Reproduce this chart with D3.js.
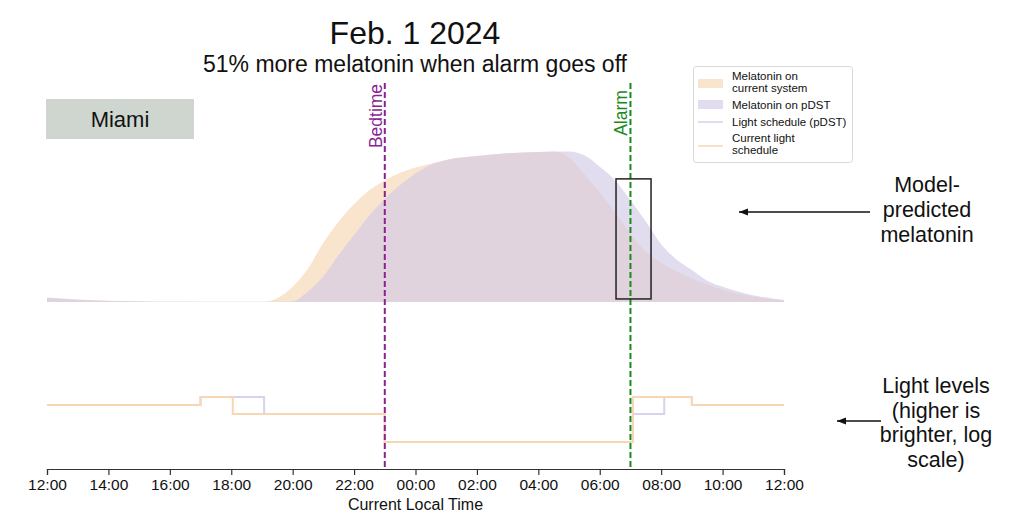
<!DOCTYPE html>
<html><head><meta charset="utf-8">
<script src="https://cdn.jsdelivr.net/npm/d3@7"></script>
<style>
body{margin:0;background:#fff}
svg{display:block}
text{font-family:"Liberation Sans",Arial,Helvetica,sans-serif;fill:#111}
</style>
</head><body><svg id="c" width="1024" height="527"></svg>
<script>
// ---------- data (hours since 12:00 noon) ----------
const hours = [0,1,2,3,4,5,6,7,7.5,8,8.5,9,9.5,10,10.5,11,11.5,12,12.5,13,14,15,16,16.5,17,17.5,18,18.5,19,19.5,20,20.5,21,21.5,22,23,24];
const melatoninCurrent = [0.026,0.014,0.007,0.004,0.002,0.001,0.001,0.001,0.025,0.10,0.22,0.39,0.53,0.645,0.735,0.80,0.85,0.885,0.91,0.935,0.96,0.978,0.987,0.99,0.95,0.84,0.72,0.59,0.45,0.33,0.26,0.20,0.155,0.115,0.08,0.035,0.012];
const melatoninPDST    = [0.03,0.017,0.009,0.005,0.003,0.002,0.001,0.001,0.001,0.003,0.07,0.17,0.31,0.44,0.57,0.68,0.77,0.845,0.905,0.935,0.96,0.978,0.987,0.99,0.99,0.965,0.89,0.80,0.67,0.53,0.38,0.28,0.21,0.14,0.10,0.045,0.013];

const lightHoursCurrent = [0,5,6.05,11,19.08,21,24];
const lightCurrent      = [480,1000,210,16,1000,480,480];
const lightHoursPDST    = [0,5,7.07,11,19.08,20.1,21,24];
const lightPDST         = [480,1000,210,16,210,1000,480,480];

const tickHours  = [0,2,4,6,8,10,12,14,16,18,20,22,24];
const tickLabels = ["12:00","14:00","16:00","18:00","20:00","22:00","00:00","02:00","04:00","06:00","08:00","10:00","12:00"];

const eventNames = ["Bedtime","Alarm"];
const eventHours = [11,19];
const eventColors = ["#8b1f93","#1a8a1a"];

const alarmWindowHours = [18.53,19.67];
const alarmWindowLevels = [0.02,0.81];

const legendLabels = [["Melatonin on","current system"],["Melatonin on pDST"],["Light schedule (pDST)"],["Current light","schedule"]];

// ---------- colours ----------
const cOrangeFill = "rgb(249,229,205)";
const cPurpleFill = "rgba(210,201,230,0.65)";
const cOrangeLine = "#f7d6b4";
const cPurpleLine = "#d6d2ef";

const svg = d3.select("#c");
const x = d3.scaleLinear().domain([0,24]).range([47,784]);
const yM = d3.scaleLinear().domain([0,1]).range([302,150]);
const yL = d3.scaleLog().domain([1,1000]).range([472,397]);

// ---------- melatonin areas ----------
const area = vals => d3.area().x((d,i)=>x(hours[i])).y0(yM(0)).y1((d,i)=>yM(vals[i])).curve(d3.curveMonotoneX)(vals);
svg.append("path").attr("d",area(melatoninCurrent)).attr("fill",cOrangeFill);
svg.append("path").attr("d",area(melatoninPDST)).attr("fill",cPurpleFill);

// ---------- light lines ----------
const stepLine = (hs,vals) => d3.line().x((d,i)=>x(hs[i])).y((d,i)=>yL(vals[i])).curve(d3.curveStepAfter)(vals);
svg.append("path").attr("d",stepLine(lightHoursPDST,lightPDST)).attr("fill","none").attr("stroke",cPurpleLine).attr("stroke-width",2);
svg.append("path").attr("d",stepLine(lightHoursCurrent,lightCurrent)).attr("fill","none").attr("stroke",cOrangeLine).attr("stroke-width",2);

// ---------- axis ----------
const ax = svg.append("g").attr("transform","translate(0,469)")
  .call(d3.axisBottom(x).tickValues(tickHours).tickFormat((d,i)=>tickLabels[i]).tickSizeOuter(0).tickSize(6).tickPadding(4));
ax.select(".domain").attr("stroke","#333").attr("stroke-width",1.2);
ax.selectAll(".tick line").attr("stroke","#333").attr("stroke-width",1.2);
ax.selectAll(".tick text").attr("font-size",15.5).attr("fill","#222").style("font-family",'"Liberation Sans",Arial,sans-serif');
svg.append("text").attr("x",x(12)).attr("y",510).attr("text-anchor","middle").attr("font-size",16).text("Current Local Time");

// ---------- event lines ----------
eventNames.forEach((n,i)=>{
  const xx = x(eventHours[i]);
  svg.append("line").attr("x1",xx).attr("x2",xx).attr("y1",83).attr("y2",469)
    .attr("stroke",eventColors[i]).attr("stroke-width",2).attr("stroke-dasharray","6,3");
  svg.append("text").attr("transform",`translate(${xx-3},${i===0?116:113}) rotate(-90)`)
    .attr("text-anchor","middle").attr("font-size",17.5).style("fill",eventColors[i]).text(n);
});

// ---------- alarm window box ----------
svg.append("rect").attr("x",x(alarmWindowHours[0])).attr("y",yM(alarmWindowLevels[1]))
  .attr("width",x(alarmWindowHours[1])-x(alarmWindowHours[0]))
  .attr("height",yM(alarmWindowLevels[0])-yM(alarmWindowLevels[1]))
  .attr("fill","none").attr("stroke","#222").attr("stroke-width",1.5);

// ---------- titles ----------
svg.append("text").attr("x",415).attr("y",44).attr("text-anchor","middle").attr("font-size",32).text("Feb. 1 2024");
svg.append("text").attr("x",415).attr("y",72).attr("text-anchor","middle").attr("font-size",23).text("51% more melatonin when alarm goes off");

// ---------- Miami box ----------
svg.append("rect").attr("x",46).attr("y",99).attr("width",148).attr("height",40).attr("fill","#cfd6cf");
svg.append("text").attr("x",120).attr("y",127).attr("text-anchor","middle").attr("font-size",22).text("Miami");

// ---------- legend ----------
const lg = svg.append("g");
lg.append("rect").attr("x",693.5).attr("y",66.5).attr("width",159).attr("height",96).attr("rx",3)
  .attr("fill","#fff").attr("stroke","#d8d8d8");
lg.append("rect").attr("x",698).attr("y",79).attr("width",25).attr("height",9).attr("fill",cOrangeFill);
lg.append("rect").attr("x",698).attr("y",100).attr("width",25).attr("height",9).attr("fill","rgb(226,220,239)");
lg.append("line").attr("x1",698).attr("x2",723).attr("y1",122).attr("y2",122).attr("stroke",cPurpleLine).attr("stroke-width",1.5);
lg.append("line").attr("x1",698).attr("x2",723).attr("y1",146).attr("y2",146).attr("stroke",cOrangeLine).attr("stroke-width",1.5);
const legendBaselines = [[80,91.5],[108.5],[126],[141.5,153.5]];
legendLabels.forEach((lines,i)=>lines.forEach((t,j)=>{
  lg.append("text").attr("x",732).attr("y",legendBaselines[i][j]).attr("font-size",11.5).attr("fill","#222").text(t);
}));

// ---------- annotations ----------
const defs = svg.append("defs");
defs.append("marker").attr("id","ah").attr("viewBox","0 0 10 10").attr("refX",10).attr("refY",5)
  .attr("markerWidth",6).attr("markerHeight",6).attr("orient","auto-start-reverse")
  .append("path").attr("d","M0,1 L10,5 L0,9 z").attr("fill","#111");
svg.append("line").attr("x1",870).attr("x2",739).attr("y1",212).attr("y2",212).attr("stroke","#111").attr("stroke-width",1.5).attr("marker-end","url(#ah)");
svg.append("line").attr("x1",881).attr("x2",837).attr("y1",421).attr("y2",421).attr("stroke","#111").attr("stroke-width",1.5).attr("marker-end","url(#ah)");
["Model-","predicted","melatonin"].forEach((t,i)=>svg.append("text").attr("x",927).attr("y",192+i*25).attr("text-anchor","middle").attr("font-size",21.5).text(t));
["Light levels","(higher is","brighter, log","scale)"].forEach((t,i)=>svg.append("text").attr("x",936).attr("y",393+i*24.7).attr("text-anchor","middle").attr("font-size",21.5).text(t));
</script>
</body></html>
